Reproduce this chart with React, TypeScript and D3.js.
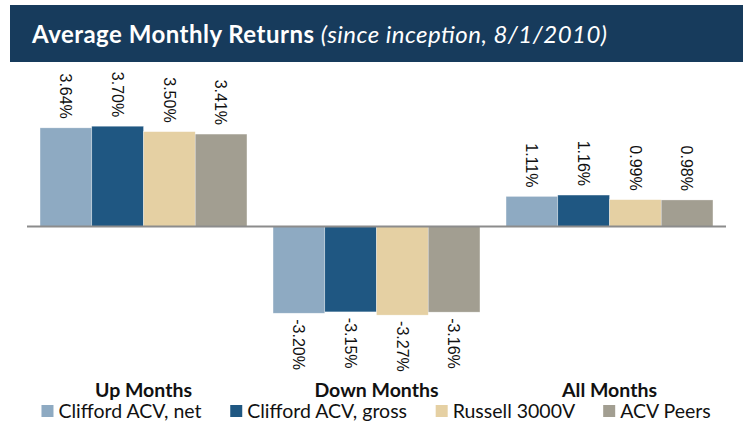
import React, { useMemo } from 'react';
import * as d3 from 'd3';

const categories = ['Up Months', 'Down Months', 'All Months'];
const seriesNames = ['Clifford ACV, net', 'Clifford ACV, gross', 'Russell 3000V', 'ACV Peers'];
const seriesColors = ['#8eaac2', '#1f5782', '#e5d0a3', '#a29e91'];

// average monthly return (%) per category, one array per series
const cliffordNet = [3.64, -3.2, 1.11];
const cliffordGross = [3.7, -3.15, 1.16];
const russell3000V = [3.5, -3.27, 0.99];
const acvPeers = [3.41, -3.16, 0.98];

const seriesValues = [cliffordNet, cliffordGross, russell3000V, acvPeers];

const width = 746;
const height = 423;
const plot = { left: 27, right: 726, zero: 226.5, pxPerUnit: 27.1 };
const textFont = 'Lato, "Open Sans", sans-serif';

const measure = (text: string, font: string) => {
  const ctx = document.createElement('canvas').getContext('2d');
  if (!ctx) return text.length * 8;
  ctx.font = font;
  return ctx.measureText(text).width;
};

export default function App() {
  const x0 = useMemo(
    () => d3.scaleBand<string>().domain(categories).range([plot.left, plot.right]).paddingInner(0.112).paddingOuter(0.056),
    []
  );
  const x1 = useMemo(
    () => d3.scaleBand<string>().domain(seriesNames).range([0, x0.bandwidth()]).padding(0),
    [x0]
  );
  const y = useMemo(
    () =>
      d3
        .scaleLinear()
        .domain([-4.5, 4.5])
        .range([plot.zero + 4.5 * plot.pxPerUnit, plot.zero - 4.5 * plot.pxPerUnit]),
    []
  );

  // legend layout: measured text widths, centred under the plot
  const legend = useMemo(() => {
    const sq = 12;
    const gapText = 5;
    const gapItem = 28;
    const widths = seriesNames.map((n) => measure(n, `19.5px ${textFont}`));
    const total = d3.sum(widths) + seriesNames.length * (sq + gapText) + gapItem * (seriesNames.length - 1);
    let cur = (plot.left + plot.right) / 2 - total / 2;
    return seriesNames.map((name, i) => {
      const item = { name, x: cur, textX: cur + sq + gapText, color: seriesColors[i], sq };
      cur += sq + gapText + widths[i] + gapItem;
      return item;
    });
  }, []);

  return (
    <svg width={width} height={height} style={{ position: 'absolute', left: 0, top: 0, background: '#fff' }}>
      {/* header band */}
      <rect x={10} y={5} width={733} height={57} fill="#173b5c" />
      <text x={32} y={43} fill="#fff" fontFamily={textFont} fontSize={24} textLength={575} lengthAdjust="spacing">
        <tspan fontWeight="bold">Average Monthly Returns </tspan>
        <tspan fontStyle="italic">(since inception, 8/1/2010)</tspan>
      </text>

      {/* bars */}
      {categories.map((cat, ci) => (
        <g key={cat} transform={`translate(${x0(cat)},0)`}>
          {seriesNames.map((s, si) => {
            const v = seriesValues[si][ci];
            const bx = x1(s) ?? 0;
            const top = Math.min(y(v), y(0));
            const h = Math.abs(y(v) - y(0));
            return (
              <rect
                key={s}
                x={bx}
                y={top}
                width={x1.bandwidth()}
                height={h}
                fill={seriesColors[si]}
                stroke="#ffffff"
                strokeOpacity={0.5}
                strokeWidth={0.6}
              />
            );
          })}
        </g>
      ))}

      {/* zero line */}
      <line x1={plot.left} x2={plot.right} y1={y(0)} y2={y(0)} stroke="#8c8c8c" strokeWidth={2} />

      {/* rotated value labels */}
      {categories.map((cat, ci) =>
        seriesNames.map((s, si) => {
          const v = seriesValues[si][ci];
          const cx = (x0(cat) ?? 0) + (x1(s) ?? 0) + x1.bandwidth() / 2;
          const ty = v >= 0 ? y(v) - 9 : y(v) + 6;
          return (
            <text
              key={`${cat}-${s}`}
              transform={`translate(${cx},${ty}) rotate(90)`}
              dy="0.35em"
              textAnchor={v >= 0 ? 'end' : 'start'}
              fontFamily='"Liberation Sans", Arial, sans-serif'
              fontSize={16}
              fill="#111"
            >
              {v.toFixed(2)}%
            </text>
          );
        })
      )}

      {/* category labels */}
      {categories.map((cat) => (
        <text
          key={cat}
          x={(x0(cat) ?? 0) + x0.bandwidth() / 2}
          y={397}
          textAnchor="middle"
          fontFamily={textFont}
          fontWeight="bold"
          fontSize={19.5}
          fill="#111"
        >
          {cat}
        </text>
      ))}

      {/* legend */}
      {legend.map((item) => (
        <g key={item.name}>
          <rect x={item.x} y={405} width={item.sq} height={item.sq} fill={item.color} />
          <text x={item.textX} y={418} fontFamily={textFont} fontSize={19.5} fill="#111">
            {item.name}
          </text>
        </g>
      ))}
    </svg>
  );
}
